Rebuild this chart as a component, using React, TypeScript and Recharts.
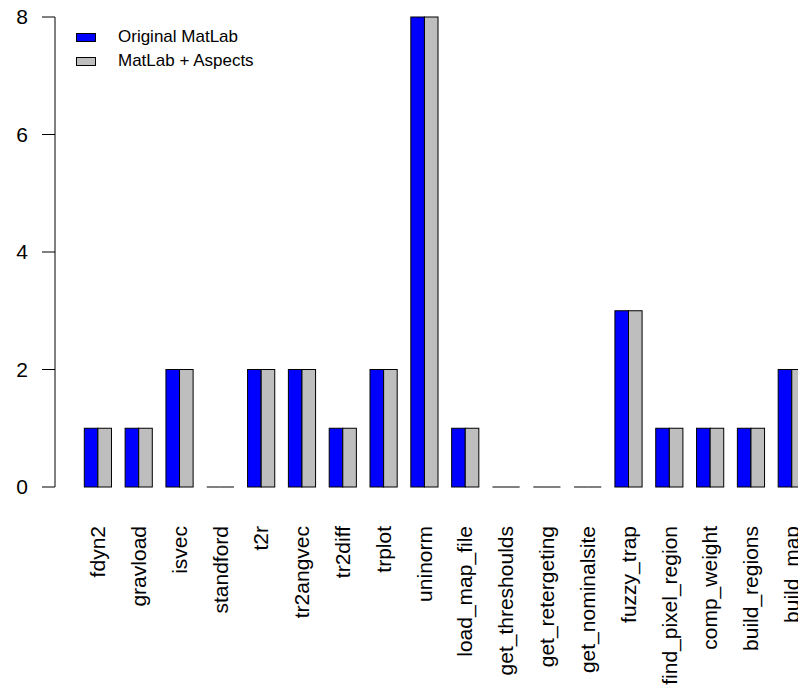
import React from 'react';
import { BarChart, Bar, XAxis, YAxis } from 'recharts';

const functions = [
  'fdyn2', 'gravload', 'isvec', 'standford', 't2r', 'tr2angvec', 'tr2diff', 'trplot', 'uninorm',
  'load_map_file', 'get_threshoulds', 'get_retergeting', 'get_nominalsite', 'fuzzy_trap',
  'find_pixel_region', 'comp_weight', 'build_regions', 'build_map',
];
const originalMatlab = [1, 1, 2, 0, 2, 2, 1, 2, 8, 1, 0, 0, 0, 3, 1, 1, 1, 2];
const matlabAspects = [1, 1, 2, 0, 2, 2, 1, 2, 8, 1, 0, 0, 0, 3, 1, 1, 1, 2];
const yTicks = [0, 2, 4, 6, 8];

const seriesNames = ['Original MatLab', 'MatLab + Aspects'];
const seriesColors = ['#0000ff', '#bebebe'];

const data = functions.map((name, i) => ({
  name,
  original: originalMatlab[i],
  aspects: matlabAspects[i],
}));

const FONT = '"Liberation Sans", Arial, Helvetica, sans-serif';

// R-style bar: bordered rect, and a flat line when the value is zero
const BorderedBar = (props: any) => {
  const { x, y, width, height, fill } = props;
  if (!height) {
    return <line x1={x} x2={x + width} y1={y} y2={y} stroke="#000" strokeWidth={1} />;
  }
  return <rect x={x} y={y} width={width} height={height} fill={fill} stroke="#000" strokeWidth={1} />;
};

const RotatedTick = (props: any) => {
  const { x, y, payload } = props;
  return (
    <text
      x={0}
      y={0}
      dy="0.35em"
      transform={`translate(${x},${y + 31}) rotate(-90)`}
      textAnchor="end"
      fontSize={21}
      fontFamily={FONT}
      fill="#000"
    >
      {payload.value}
    </text>
  );
};

// legend floats over the plot, like legend("topleft") in R
const LegendBox = () => (
  <div style={{ position: 'absolute', left: 76, top: 25, fontFamily: FONT, fontSize: 17, color: '#000' }}>
    {seriesNames.map((name, i) => (
      <div key={name} style={{ display: 'flex', alignItems: 'center', height: 24 }}>
        <span
          style={{
            display: 'inline-block',
            width: 18,
            height: 7,
            background: seriesColors[i],
            border: '1px solid #000',
            marginRight: 22,
          }}
        />
        <span>{name}</span>
      </div>
    ))}
  </div>
);

export default function App() {
  return (
    <div style={{ position: 'fixed', left: 0, top: 0, width: 798, height: 686, overflow: 'hidden', background: '#fff' }}>
      <BarChart
        width={812}
        height={686}
        data={data}
        margin={{ top: 17, right: 0, bottom: 0, left: 0 }}
        barGap={0}
      >
        <XAxis
          dataKey="name"
          interval={0}
          axisLine={false}
          tickLine={false}
          height={199}
          padding={{ left: 22.3, right: 0 }}
          tick={<RotatedTick />}
        />
        <YAxis
          width={55}
          domain={[0, 8]}
          ticks={yTicks}
          interval={0}
          tickSize={13}
          tickMargin={14}
          axisLine={{ stroke: '#000' }}
          tickLine={{ stroke: '#000' }}
          tick={{ fontSize: 21, fontFamily: FONT, fill: '#000' }}
        />
        <Bar dataKey="original" name={seriesNames[0]} fill={seriesColors[0]} barSize={13.59} shape={<BorderedBar />} isAnimationActive={false} />
        <Bar dataKey="aspects" name={seriesNames[1]} fill={seriesColors[1]} barSize={13.59} shape={<BorderedBar />} isAnimationActive={false} />
      </BarChart>
      <LegendBox />
    </div>
  );
}
